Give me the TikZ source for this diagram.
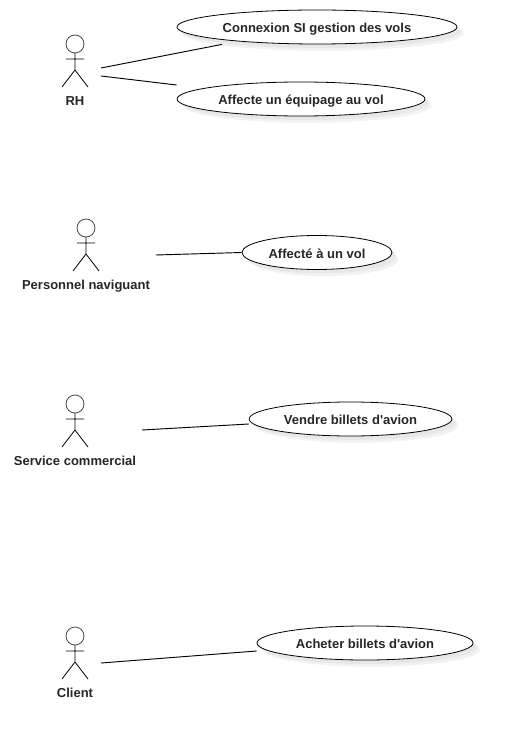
\documentclass[tikz,border=0pt]{standalone}
\usepackage{fontspec}
\newfontfamily\umlfont{Liberation Sans}
\usetikzlibrary{calc, positioning}
\usetikzlibrary{shapes.geometric, shadows}
\tikzset{
  usecase/.style={ellipse,draw=black,line width=0.6pt,fill=white,inner sep=0pt,
    minimum height=25.5pt,font=\umlfont\bfseries\fontsize{9.75}{11}\selectfont,text=black!85,
    text height=9.5pt,text depth=1pt,
    drop shadow={shadow xshift=5pt,shadow yshift=-5pt,fill=black!5,opacity=1},
    drop shadow={shadow xshift=3pt,shadow yshift=-3pt,fill=black!9,opacity=1}},
  actorname/.style={font=\umlfont\bfseries\fontsize{9.75}{11}\selectfont,text=black!85,
    inner sep=0pt,text height=7pt,text depth=0pt},
  assoc/.style={line width=0.7pt,black}
}
\begin{document}
\begin{tikzpicture}[x=0.75pt,y=-0.75pt]
\useasboundingbox (0,0) rectangle (513,745);

% Actors
\foreach \name/\hx/\hy/\lx/\txt in {rh/75/44/75/RH,
    personnel/86/228/86/Personnel naviguant,
    service/75/404/75/Service commercial,
    client/75/636/75/Client}{
  \draw[line width=0.6pt,black!70] (\hx,\hy) circle (9);
  \draw[line width=0.6pt] (\hx,\hy+9) -- (\hx,\hy+26)
      (\hx-9,\hy+15) -- (\hx+9,\hy+15)
      (\hx-13,\hy+43) -- (\hx,\hy+26) -- (\hx+13,\hy+43);
  \node[actorname] (\name) at (\lx,\hy+57) {\txt};
}

% Use cases
\node[usecase,minimum width=210pt] (connexion) at (317,27) {Connexion SI gestion des vols};
\node[usecase,minimum width=186pt] (affecte) at (301,99) {Affecte un équipage au vol};
\node[usecase,minimum width=112.5pt] (affectevol) at (317,252.5) {Affecté à un vol};
\node[usecase,minimum width=152pt] (vendre) at (350.5,419) {Vendre billets d'avion};
\node[usecase,minimum width=162pt] (acheter) at (365,643) {Acheter billets d'avion};

% Free ends beside the actors
\coordinate (rhA) at (101,68);
\coordinate (rhB) at (101,76);
\coordinate (personnelA) at (156,255);
\coordinate (serviceA) at (142,430);
\coordinate (clientA) at (101,663);

% Associations
\draw[assoc] (rhA) -- ($(connexion.south)+(-95,0)$);
\draw[assoc] (rhB) -- ($(affecte.west)+(0,-14)$);
\draw[assoc] (personnelA) -- (affectevol.west);
\draw[assoc] (serviceA) -- ($(vendre.west)+(0,5)$);
\draw[assoc] (clientA) -- ($(acheter.west)+(0,8)$);
\end{tikzpicture}
\end{document}
